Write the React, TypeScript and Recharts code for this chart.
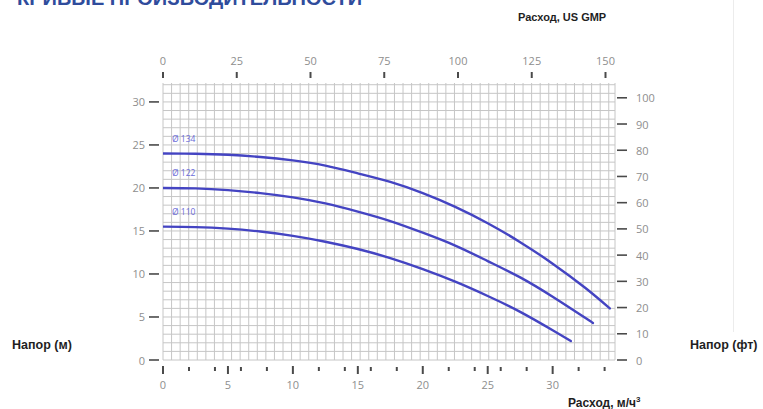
import React from "react"
import { CartesianGrid, Line, LineChart, XAxis, YAxis } from "recharts"

// Flow in m3/h and head in m
const flow134 = [0, 2.5, 5, 7.5, 10, 12.5, 15, 17.5, 20, 22.5, 25, 27.5, 30, 32.5, 34.4]
const head134 = [24.0, 23.97, 23.86, 23.6, 23.2, 22.6, 21.7, 20.7, 19.4, 17.8, 15.9, 13.7, 11.2, 8.4, 6.0]

const flow122 = [0, 2.5, 5, 7.5, 10, 12.5, 15, 17.5, 20, 22.5, 25, 27.5, 30, 32.5, 33.1]
const head122 = [20.0, 19.95, 19.75, 19.4, 18.9, 18.2, 17.25, 16.15, 14.8, 13.3, 11.5, 9.6, 7.35, 4.9, 4.3]

const flow110 = [0, 2.5, 5, 7.5, 10, 12.5, 15, 17.5, 20, 22.5, 25, 27.5, 30, 31.4]
const head110 = [15.5, 15.45, 15.27, 14.93, 14.43, 13.75, 12.9, 11.84, 10.56, 9.1, 7.44, 5.6, 3.46, 2.2]

const curveNames = ["Ø 134", "Ø 122", "Ø 110"]

const flowTicks = [0, 2, 4, 5, 6, 8, 10, 12, 14, 15, 16, 18, 20, 22, 24, 25, 26, 28, 30, 32, 34]
const gpmTicks = [0, 25, 50, 75, 100, 125, 150]
const headTicks = [0, 5, 10, 15, 20, 25, 30]
const feetTicks = [0, 10, 20, 30, 40, 50, 60, 70, 80, 90, 100]

const FLOW_MAX = 34.8
const HEAD_MAX = 32.2
const GPM_PER_M3H = 4.4029
const FT_PER_M = 3.2808

const CURVE = "#4444c2"
const TICK_TEXT = "#8e8e8e"
const TICK_MARK = "#4a4a4a"

const toRows = (flow: number[], head: number[]) => flow.map((q, i) => ({ q, h: head[i] }))

const series = [
  { name: curveNames[0], data: toRows(flow134, head134) },
  { name: curveNames[1], data: toRows(flow122, head122) },
  { name: curveNames[2], data: toRows(flow110, head110) },
]

const tickFont = { fontFamily: "'Open Sans', sans-serif", fontSize: 11, fill: TICK_TEXT }

function LeftTick({ y, payload }: any) {
  return (
    <g>
      <text x={145} y={y} textAnchor="end" dominantBaseline="central" {...tickFont}>
        {payload.value}
      </text>
      <line x1={149} x2={159} y1={y} y2={y} stroke={TICK_MARK} strokeWidth={1.6} />
    </g>
  )
}

function RightTick({ y, payload }: any) {
  return (
    <g>
      <line x1={617} x2={627} y1={y} y2={y} stroke={TICK_MARK} strokeWidth={1.6} />
      <text x={636} y={y} textAnchor="start" dominantBaseline="central" {...tickFont}>
        {payload.value}
      </text>
    </g>
  )
}

function TopTick({ x, payload }: any) {
  return (
    <g>
      <text x={x} y={60} textAnchor="middle" dominantBaseline="central" {...tickFont}>
        {payload.value}
      </text>
      <line x1={x} x2={x} y1={72} y2={78} stroke={TICK_MARK} strokeWidth={2} />
    </g>
  )
}

function BottomTick({ x, payload }: any) {
  const major = payload.value % 5 === 0
  return (
    <g>
      <line
        x1={x}
        x2={x}
        y1={major ? 366 : 367}
        y2={major ? 374 : 371}
        stroke={TICK_MARK}
        strokeWidth={2}
      />
      {major && (
        <text x={x} y={384} textAnchor="middle" dominantBaseline="central" {...tickFont}>
          {payload.value}
        </text>
      )}
    </g>
  )
}

// Fine millimetre-style grid: 1 m rows, ~2/3 m3/h columns
const gridRows = Array.from({ length: 33 }, (_, i) => i)
const gridCols = Array.from({ length: 53 }, (_, i) => i * 0.66)

const boldLabel: React.CSSProperties = {
  position: "absolute",
  fontFamily: "'Liberation Sans', Arial, sans-serif",
  fontWeight: 700,
  color: "#1f1f1f",
  whiteSpace: "nowrap",
}

export default function App() {
  return (
    <div
      style={{
        position: "absolute",
        left: 0,
        top: 0,
        width: 763,
        height: 409,
        background: "#fff",
        overflow: "hidden",
      }}
    >
      <div
        style={{
          ...boldLabel,
          left: 17,
          top: -12,
          fontSize: 20,
          lineHeight: "20px",
          color: "#2f4c9c",
        }}
      >
        КРИВЫЕ ПРОИЗВОДИТЕЛЬНОСТИ
      </div>
      <div style={{ position: "absolute", left: 733, top: 0, width: 1, height: 332, background: "#ececec" }} />

      <LineChart
        width={763}
        height={409}
        data={series[0].data}
        margin={{ top: 53, right: 108, bottom: 19, left: 123 }}
        style={{ position: "absolute", left: 0, top: 0 }}
      >
        <CartesianGrid
          stroke="#c6c6c6"
          strokeWidth={1}
          horizontalCoordinatesGenerator={({ offset }: any) =>
            gridRows.map((v) => offset.top + offset.height * (1 - v / HEAD_MAX))
          }
          verticalCoordinatesGenerator={({ offset }: any) =>
            [...gridCols, FLOW_MAX].map((v) => offset.left + (offset.width * v) / FLOW_MAX)
          }
        />
        <XAxis
          xAxisId="m3"
          type="number"
          dataKey="q"
          domain={[0, FLOW_MAX]}
          allowDataOverflow
          ticks={flowTicks}
          interval={0}
          height={30}
          axisLine={false}
          tickLine={false}
          tick={<BottomTick />}
        />
        <XAxis
          xAxisId="gpm"
          orientation="top"
          type="number"
          dataKey={(r: any) => r.q * GPM_PER_M3H}
          domain={[0, FLOW_MAX * GPM_PER_M3H]}
          allowDataOverflow
          ticks={gpmTicks}
          interval={0}
          height={30}
          axisLine={false}
          tickLine={false}
          tick={<TopTick />}
        />
        <YAxis
          yAxisId="m"
          type="number"
          domain={[0, HEAD_MAX]}
          allowDataOverflow
          ticks={headTicks}
          interval={0}
          width={40}
          axisLine={false}
          tickLine={false}
          tick={<LeftTick />}
        />
        <YAxis
          yAxisId="ft"
          orientation="right"
          type="number"
          domain={[0, HEAD_MAX * FT_PER_M]}
          allowDataOverflow
          ticks={feetTicks}
          interval={0}
          width={40}
          axisLine={false}
          tickLine={false}
          tick={<RightTick />}
        />
        {series.map((s) => (
          <Line
            key={s.name}
            xAxisId="m3"
            yAxisId="m"
            data={s.data}
            dataKey="h"
            name={s.name}
            type="natural"
            stroke={CURVE}
            strokeWidth={2.4}
            strokeLinecap="round"
            dot={false}
            isAnimationActive={false}
            label={({ x, y, index }: any) =>
              index === 0 ? (
                <text
                  key="lbl"
                  x={x + 9}
                  y={y - 15}
                  fontSize={8.5}
                  fontFamily="'Open Sans', sans-serif"
                  fill="#6a6ad8"
                  dominantBaseline="central"
                >
                  {s.name}
                </text>
              ) : (
                <g key={index} />
              )
            }
          />
        ))}
      </LineChart>

      <div style={{ ...boldLabel, left: 518, top: 11, fontSize: 11, lineHeight: "13px" }}>Расход, US GMP</div>
      <div style={{ ...boldLabel, left: 12, top: 338, fontSize: 12.5, lineHeight: "14px" }}>Напор (м)</div>
      <div style={{ ...boldLabel, left: 690, top: 338, fontSize: 12.5, lineHeight: "14px" }}>Напор (фт)</div>
      <div style={{ ...boldLabel, left: 568, top: 396, fontSize: 12, lineHeight: "14px" }}>
        Расход, м/ч<sup style={{ fontSize: 8, lineHeight: 0 }}>3</sup>
      </div>
    </div>
  )
}
